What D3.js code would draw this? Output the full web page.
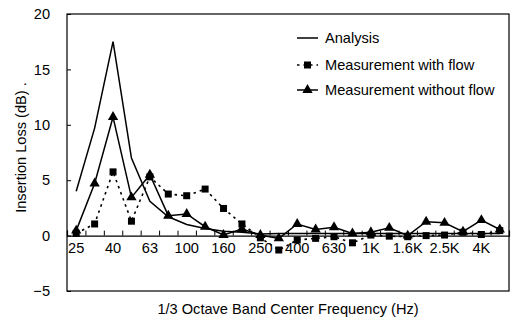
<!DOCTYPE html>
<html><head><meta charset="utf-8">
<script src="https://cdn.jsdelivr.net/npm/d3@7"></script>
<style>body{margin:0;background:#fff}svg{display:block}text{font-family:"Liberation Sans",Arial,sans-serif;fill:#000}</style>
</head><body><svg id="c" width="513" height="325"></svg>
<script>
const categories = ["25","31.5","40","50","63","80","100","125","160","200","250","315","400","500","630","800","1K","1.25K","1.6K","2K","2.5K","3.15K","4K","5K"];
const tickLabels = ["25","40","63","100","160","250","400","630","1K","1.6K","2.5K","4K"];
const yTicks = [-5,0,5,10,15,20];
const analysis = [4.0,9.7,17.5,7.0,3.1,1.7,1.0,0.65,0.4,0.3,0.15,0.2,0.2,0.2,0.2,0.2,0.2,0.2,0.2,0.2,0.2,0.2,0.2,0.2];
const withFlow = [0.2,1.05,5.75,1.3,5.3,3.75,3.6,4.2,2.45,1.05,-0.2,-1.3,-0.4,-0.25,-0.1,-0.65,0.05,-0.05,-0.1,0.0,0.05,0.3,0.1,0.45];
const withoutFlow = [0.45,4.7,10.7,3.45,5.5,1.8,1.95,0.8,0.05,0.6,0.05,-0.25,1.05,0.55,0.75,0.2,0.3,0.7,0.0,1.25,1.15,0.35,1.4,0.55];
const seriesNames = ["Analysis","Measurement with flow","Measurement without flow"];

const L=67,R=509,T=14,B=291;
const svg=d3.select("#c");
const x=d3.scaleBand().domain(categories).range([L,R]).padding(0);
const xb=d3.scaleLinear().domain([0,categories.length]).range([L,R]);
const y=d3.scaleLinear().domain([-5,20]).range([B,T]);
const fs=14.6;

// frame
svg.append("rect").attr("x",L).attr("y",T).attr("width",R-L).attr("height",B-T).attr("fill","none").attr("stroke","#000").attr("stroke-width",1.2);

// y axis
const ya=svg.append("g").attr("transform",`translate(${L},0)`)
 .call(d3.axisLeft(y).tickValues(yTicks).tickSizeInner(-4).tickSizeOuter(0).tickPadding(17));
ya.select(".domain").remove();
ya.selectAll("text").attr("font-size",fs).style("font-family","Liberation Sans, Arial, sans-serif");
ya.selectAll("line").attr("stroke","#000");

// x axis line at y=0 with upward ticks at band boundaries
const xt=svg.append("g").attr("transform",`translate(0,${y(0)})`)
 .call(d3.axisTop(xb).tickValues(d3.range(categories.length+1)).tickSize(5).tickFormat(""));
xt.select(".domain").attr("stroke","#000").attr("stroke-width",1.2);
xt.selectAll("line").attr("stroke","#000");
const xl=svg.append("g").attr("transform",`translate(0,${y(0)})`)
 .call(d3.axisBottom(x).tickValues(tickLabels).tickSize(0).tickPadding(7));
xl.select(".domain").remove();
xl.selectAll("text").attr("font-size",fs).style("font-family","Liberation Sans, Arial, sans-serif");

const cx=d=>x(d)+x.bandwidth()/2;
const line=d3.line().x((d,i)=>cx(categories[i])).y(d=>y(d));

svg.append("path").datum(analysis).attr("d",line).attr("fill","none").attr("stroke","#000").attr("stroke-width",1.5);
svg.append("path").datum(withFlow).attr("d",line).attr("fill","none").attr("stroke","#000").attr("stroke-width",1.6).attr("stroke-dasharray","2.5,4");
svg.append("path").datum(withoutFlow).attr("d",line).attr("fill","none").attr("stroke","#000").attr("stroke-width",1.5);

const sq=d3.symbol().type(d3.symbolSquare).size(49);
const tri=d3.symbol().type(d3.symbolTriangle).size(46);
svg.append("g").selectAll("path").data(withFlow).join("path")
 .attr("d",sq).attr("transform",(d,i)=>`translate(${cx(categories[i])},${y(d)})`).attr("fill","#000");
svg.append("g").selectAll("path").data(withoutFlow).join("path")
 .attr("d",tri).attr("transform",(d,i)=>`translate(${cx(categories[i])},${y(d)})`).attr("fill","#000");

// legend
const lg=svg.append("g");
const lx0=297,lx1=318,ly=[38,65,90];
lg.append("line").attr("x1",lx0).attr("x2",lx1).attr("y1",ly[0]).attr("y2",ly[0]).attr("stroke","#000").attr("stroke-width",1.5);
lg.append("line").attr("x1",lx0).attr("x2",lx1).attr("y1",ly[1]).attr("y2",ly[1]).attr("stroke","#000").attr("stroke-width",1.6).attr("stroke-dasharray","2.5,4");
lg.append("path").attr("d",sq).attr("transform",`translate(${(lx0+lx1)/2},${ly[1]})`);
lg.append("line").attr("x1",lx0).attr("x2",lx1).attr("y1",ly[2]).attr("y2",ly[2]).attr("stroke","#000").attr("stroke-width",1.5);
lg.append("path").attr("d",tri).attr("transform",`translate(${(lx0+lx1)/2},${ly[2]})`);
seriesNames.forEach((n,i)=>lg.append("text").attr("x",lx1+7).attr("y",ly[i]).attr("dy","0.35em").attr("font-size",fs).text(n));

// titles
svg.append("text").attr("x",(L+R)/2).attr("y",314).attr("text-anchor","middle").attr("font-size",fs).text("1/3 Octave Band Center Frequency (Hz)");
svg.append("text").attr("transform",`translate(26,${(T+B)/2-5}) rotate(-90)`).attr("text-anchor","middle").attr("font-size",fs).text("Insertion Loss (dB) .");
</script></body></html>
